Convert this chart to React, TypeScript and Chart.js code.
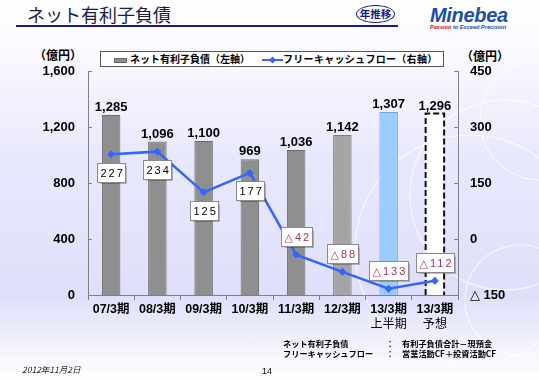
import React, { useEffect, useRef } from 'react';
import { Chart, registerables } from 'chart.js';

Chart.register(...registerables);

const categories = ['07/3期', '08/3期', '09/3期', '10/3期', '11/3期', '12/3期', '13/3期', '13/3期'];
const subLabels = ['', '', '', '', '', '', '上半期', '予想'];
const netDebt = [1285, 1096, 1100, 969, 1036, 1142, 1307, 1296];
const freeCashFlow = [227, 234, 125, 177, -42, -88, -133, -112];
const leftTickValues = [0, 400, 800, 1200, 1600];
const rightTickValues = [-150, 0, 150, 300, 450];
const barColors = ['#8f8f8f', '#8f8f8f', '#8f8f8f', '#8f8f8f', '#8f8f8f', '#a5a5a5', '#99ccff', '#ffffff'];
const barBorderColors = ['#6a6a6a', '#6a6a6a', '#6a6a6a', '#6a6a6a', '#6a6a6a', '#7c7c7c', '#6fa6dc', 'rgba(0,0,0,0)'];
const forecastIndex = 7;

const NUM_FONT = '"Liberation Sans", Arial, "DejaVu Sans", "Noto Sans CJK JP", sans-serif';
const JP_FONT = '"Noto Sans CJK JP", "Liberation Sans", sans-serif';

const fmtThousands = (v: number) => v.toLocaleString('en-US');
const fmtRight = (v: number) => (v < 0 ? '△ ' + Math.abs(v) : String(v));
const fmtBox = (v: number) => (v < 0 ? '△' + Math.abs(v) : String(v));

const overlayPlugin = {
  id: 'overlay',
  afterDatasetDraw(chart: any, args: any) {
    if (args.index !== 0) return;
    const ctx = chart.ctx;
    const fb = chart.getDatasetMeta(0).data[forecastIndex];
    if (!fb) return;
    const { x, y, base, width } = fb.getProps(['x', 'y', 'base', 'width'], true);
    ctx.save();
    ctx.strokeStyle = '#111';
    ctx.lineWidth = 2;
    ctx.setLineDash([6, 3]);
    ctx.beginPath();
    ctx.moveTo(x - width / 2, base);
    ctx.lineTo(x - width / 2, y);
    ctx.lineTo(x + width / 2, y);
    ctx.lineTo(x + width / 2, base);
    ctx.stroke();
    ctx.restore();
  },
  afterDatasetsDraw(chart: any) {
    const ctx = chart.ctx;
    const barMeta = chart.getDatasetMeta(0);
    const lineMeta = chart.getDatasetMeta(1);
    ctx.save();
    // bar value labels
    ctx.font = 'bold 13px ' + NUM_FONT;
    ctx.fillStyle = '#000';
    ctx.textAlign = 'center';
    ctx.textBaseline = 'alphabetic';
    barMeta.data.forEach((el: any, i: number) => {
      const { x, y } = el.getProps(['x', 'y'], true);
      ctx.fillText(fmtThousands(netDebt[i]), x, y - 4);
    });
    // free cash flow boxes
    ctx.font = '11px "Liberation Sans", "DejaVu Sans", sans-serif';
    (ctx as any).letterSpacing = '2px';
    lineMeta.data.forEach((el: any, i: number) => {
      const v = freeCashFlow[i];
      const { x, y } = el.getProps(['x', 'y'], true);
      const text = fmtBox(v);
      const tw = ctx.measureText(text).width;
      const w = Math.round(tw + 4);
      const h = 19;
      const cy = v >= 0 ? y + 18 : y - 18;
      const left = Math.round(x - w / 2) + 0.5;
      const top = Math.round(cy - h / 2) + 0.5;
      ctx.shadowColor = 'rgba(0,0,0,0.25)';
      ctx.shadowOffsetX = 1;
      ctx.shadowOffsetY = 1;
      ctx.shadowBlur = 1;
      ctx.fillStyle = '#ffffff';
      ctx.fillRect(left, top, w, h);
      ctx.shadowColor = 'rgba(0,0,0,0)';
      ctx.strokeStyle = '#8a8a8a';
      ctx.lineWidth = 1;
      ctx.strokeRect(left, top, w, h);
      ctx.fillStyle = v >= 0 ? '#000000' : '#993366';
      ctx.textAlign = 'left';
      ctx.textBaseline = 'middle';
      ctx.fillText(text, left + 3, top + h / 2 + 0.5);
    });
    ctx.restore();
  },
  afterDraw(chart: any) {
    const ctx = chart.ctx;
    ctx.save();
    ctx.strokeStyle = '#808080';
    ctx.lineWidth = 1;
    const yl = chart.scales.y;
    const yr = chart.scales.y1;
    yl.ticks.forEach((t: any) => {
      const py = Math.round(yl.getPixelForValue(t.value)) + 0.5;
      ctx.beginPath();
      ctx.moveTo(yl.right, py);
      ctx.lineTo(yl.right + 4, py);
      ctx.stroke();
    });
    yr.ticks.forEach((t: any) => {
      const py = Math.round(yr.getPixelForValue(t.value)) + 0.5;
      ctx.beginPath();
      ctx.moveTo(yr.left - 4, py);
      ctx.lineTo(yr.left, py);
      ctx.stroke();
    });
    // second line of category labels
    const xs = chart.scales.x;
    ctx.font = '12px ' + JP_FONT;
    ctx.fillStyle = '#000';
    ctx.textAlign = 'center';
    ctx.textBaseline = 'middle';
    subLabels.forEach((s, i) => {
      if (!s) return;
      ctx.fillText(s, xs.getPixelForTick(i), xs.top + 28);
    });
    ctx.restore();
  },
};

function ChartCanvas() {
  const ref = useRef<HTMLCanvasElement | null>(null);
  useEffect(() => {
    if (!ref.current) return;
    const chart = new Chart(ref.current, {
      type: 'bar',
      data: {
        labels: categories,
        datasets: [
          {
            type: 'bar',
            label: 'ネット有利子負債（左軸）',
            data: netDebt,
            yAxisID: 'y',
            backgroundColor: barColors,
            borderColor: barBorderColors,
            borderWidth: 1,
            borderSkipped: 'bottom',
            barPercentage: 0.4,
            categoryPercentage: 1,
            order: 1,
          } as any,
          {
            type: 'line',
            label: 'フリーキャッシュフロー（右軸）',
            data: freeCashFlow,
            yAxisID: 'y1',
            borderColor: '#3366ff',
            backgroundColor: '#3366ff',
            borderWidth: 2.5,
            pointStyle: 'rectRot',
            pointRadius: 4,
            pointBorderWidth: 0,
            tension: 0,
            order: 0,
          } as any,
        ],
      },
      options: {
        responsive: false,
        maintainAspectRatio: false,
        animation: false,
        devicePixelRatio: 1,
        layout: { padding: { top: 71, left: 0, right: 0, bottom: 0 } },
        plugins: {
          legend: { display: false },
          tooltip: { enabled: false },
          title: { display: false },
        },
        scales: {
          x: {
            type: 'category',
            offset: true,
            grid: {
              display: true,
              offset: true,
              drawOnChartArea: false,
              drawTicks: true,
              tickLength: 5,
              color: '#808080',
            },
            border: { display: true, color: '#808080' },
            ticks: {
              color: '#000',
              font: { family: NUM_FONT, size: 12.5, weight: 'bold' },
              padding: 2,
              maxRotation: 0,
              autoSkip: false,
            },
            afterFit: (s: any) => {
              s.height = 85;
            },
          },
          y: {
            position: 'left',
            min: 0,
            max: 1600,
            afterBuildTicks: (s: any) => {
              s.ticks = leftTickValues.map((v) => ({ value: v }));
            },
            grid: { display: false, drawTicks: false },
            border: { display: true, color: '#808080' },
            ticks: {
              color: '#000',
              padding: 13,
              font: { family: NUM_FONT, size: 13, weight: 'bold' },
              callback: (v: any) => fmtThousands(Number(v)),
            },
            afterFit: (s: any) => {
              s.width = 88;
            },
          },
          y1: {
            position: 'right',
            min: -150,
            max: 450,
            afterBuildTicks: (s: any) => {
              s.ticks = rightTickValues.map((v) => ({ value: v }));
            },
            grid: { display: false, drawTicks: false },
            border: { display: true, color: '#808080' },
            ticks: {
              color: '#000',
              padding: 12,
              font: { family: NUM_FONT, size: 13, weight: 'bold' },
              callback: (v: any) => fmtRight(Number(v)),
            },
            afterFit: (s: any) => {
              s.width = 81;
            },
          },
        },
      } as any,
      plugins: [overlayPlugin],
    });
    return () => chart.destroy();
  }, []);
  return <canvas ref={ref} width={539} height={380} style={{ position: 'absolute', left: 0, top: 0, width: 539, height: 380 }} />;
}

export default function App() {
  const abs: React.CSSProperties = { position: 'absolute', whiteSpace: 'nowrap' };
  return (
    <div
      style={{
        position: 'fixed',
        left: 0,
        top: 0,
        width: 539,
        height: 380,
        overflow: 'hidden',
        background: 'linear-gradient(180deg, #ffffff 0%, #fbfbff 10%, #e8e8fd 42%, #dfdffb 78%, #f4f4fd 92%, #ffffff 100%)',
        fontFamily: JP_FONT,
      }}
    >
      <svg width={539} height={380} style={{ position: 'absolute', left: 0, top: 0 }}>
        <g fill="none" stroke="#ffffff" strokeOpacity={0.75} strokeWidth={1.2}>
          <circle cx={505} cy={195} r={95} />
          <circle cx={520} cy={300} r={55} />
          <circle cx={470} cy={250} r={115} />
          <circle cx={540} cy={120} r={60} />
        </g>
      </svg>
      {/* title */}
      <div style={{ ...abs, left: 27, top: 3, fontSize: 18, lineHeight: '22px', color: '#1c1c40' }}>ネット有利子負債</div>
      <div style={{ ...abs, left: 16, top: 25, width: 382, height: 2, background: '#1a1a80' }} />
      <div
        style={{
          ...abs,
          left: 356,
          top: 5,
          width: 37,
          height: 16,
          border: '1.5px solid #1a1a80',
          borderRadius: '50%',
          fontSize: 10.5,
          fontWeight: 'bold',
          color: '#1a1a80',
          textAlign: 'center',
          lineHeight: '16px',
        }}
      >
        年推移
      </div>
      <div
        style={{
          ...abs,
          left: 430,
          top: 4,
          fontFamily: '"Liberation Sans", Arial, sans-serif',
          fontStyle: 'italic',
          fontWeight: 'bold',
          fontSize: 20,
          lineHeight: '22px',
          color: '#1d4fa8',
          letterSpacing: '-0.3px',
        }}
      >
        Minebea
      </div>
      <div
        style={{
          ...abs,
          left: 430,
          top: 24,
          fontFamily: '"Liberation Sans", Arial, sans-serif',
          fontStyle: 'italic',
          fontWeight: 'bold',
          fontSize: 5.6,
          lineHeight: '7px',
          color: '#1d4fa8',
        }}
      >
        <span style={{ color: '#cc1122' }}>Passion</span> to Exceed Precision
      </div>
      {/* axis units */}
      <div style={{ ...abs, left: 34, top: 47, fontSize: 12, fontWeight: 'bold', lineHeight: '16px' }}>（億円）</div>
      <div style={{ ...abs, left: 461, top: 48, fontSize: 12, fontWeight: 'bold', lineHeight: '16px' }}>（億円）</div>
      <ChartCanvas />
      {/* legend */}
      <div
        style={{
          position: 'absolute',
          left: 100,
          top: 51,
          width: 344,
          height: 16,
          border: '1px solid #555',
          background: '#ffffff',
          boxSizing: 'border-box',
        }}
      >
        <div style={{ position: 'absolute', left: 13, top: 6, width: 13, height: 5, background: '#8f8f8f', border: '1px solid #666', boxSizing: 'border-box' }} />
        <span style={{ ...abs, left: 29, top: 0, fontSize: 10, fontWeight: 'bold', lineHeight: '14px' }}>ネット有利子負債（左軸）</span>
        <svg style={{ position: 'absolute', left: 161, top: 1 }} width={21} height={13}>
          <line x1={0} y1={7} x2={21} y2={7} stroke="#3366ff" strokeWidth={2} />
          <polygon points="10.5,3.5 14,7 10.5,10.5 7,7" fill="#3366ff" />
        </svg>
        <span style={{ ...abs, left: 182, top: 0, fontSize: 10, fontWeight: 'bold', lineHeight: '14px', letterSpacing: '0.3px' }}>
          フリーキャッシュフロー（右軸）
        </span>
      </div>
      {/* notes */}
      <div style={{ ...abs, left: 283, top: 339, fontSize: 8.2, fontWeight: 'bold', lineHeight: '9.5px' }}>ネット有利子負債</div>
      <div style={{ ...abs, left: 283, top: 348.5, fontSize: 8.2, fontWeight: 'bold', lineHeight: '9.5px' }}>フリーキャッシュフロー</div>
      <div style={{ ...abs, left: 386, top: 339, fontSize: 8.2, fontWeight: 'bold', lineHeight: '9.5px' }}>：</div>
      <div style={{ ...abs, left: 386, top: 348.5, fontSize: 8.2, fontWeight: 'bold', lineHeight: '9.5px' }}>：</div>
      <div style={{ ...abs, left: 402, top: 339, fontSize: 8.2, fontWeight: 'bold', lineHeight: '9.5px' }}>有利子負債合計－現預金</div>
      <div style={{ ...abs, left: 402, top: 348.5, fontSize: 8.2, fontWeight: 'bold', lineHeight: '9.5px' }}>営業活動CF＋投資活動CF</div>
      <div style={{ ...abs, left: 22, top: 364, fontSize: 8.5, fontStyle: 'italic', lineHeight: '11px', color: '#222' }}>2012年11月2日</div>
      <div style={{ ...abs, left: 262, top: 366, fontSize: 9, lineHeight: '11px', fontFamily: '"Liberation Sans", Arial, sans-serif' }}>14</div>
    </div>
  );
}
